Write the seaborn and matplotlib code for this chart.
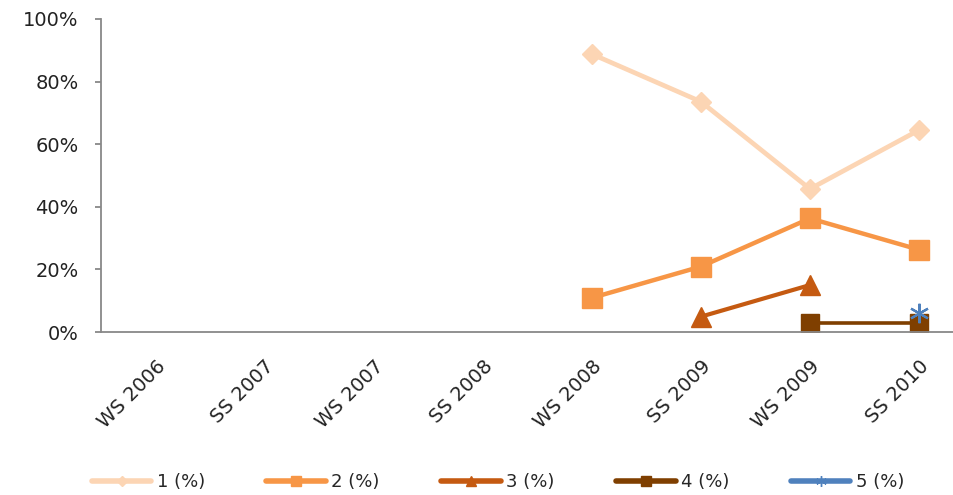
import numpy as np
import pandas as pd
import matplotlib
matplotlib.use("Agg")
import matplotlib.pyplot as plt
import seaborn as sns

categories = ["WS 2006", "SS 2007", "WS 2007", "SS 2008", "WS 2008", "SS 2009", "WS 2009", "SS 2010"]
s1 = [np.nan, np.nan, np.nan, np.nan, 88.8, 73.6, 45.7, 64.5]
s2 = [np.nan, np.nan, np.nan, np.nan, 10.9, 20.9, 36.3, 26.3]
s3 = [np.nan, np.nan, np.nan, np.nan, np.nan, 4.9, 15.0, np.nan]
s4 = [np.nan, np.nan, np.nan, np.nan, np.nan, np.nan, 2.9, 2.9]
s5 = [np.nan, np.nan, np.nan, np.nan, np.nan, np.nan, np.nan, 6.0]
series_names = ["1 (%)", "2 (%)", "3 (%)", "4 (%)", "5 (%)"]
series_vals = [s1, s2, s3, s4, s5]

colors = ["#FCD5B4", "#F79646", "#C55A11", "#7F3F00", "#4F81BD"]
markers = ["D", "s", "^", "s", (6, 2, 0)]
msizes = [10, 14, 14, 13, 14]
lwidths = [3.4, 3.2, 3.0, 2.6, 3.0]

sns.set_style("white")
plt.rcParams["font.family"] = ["DejaVu Sans"]

fig = plt.figure(figsize=(9.54, 4.95), dpi=100)
W, H = 954, 495
left, right, top, bottom = 101, 954, 19, 332
ax = fig.add_axes([left / W, 1 - bottom / H, (right - left) / W, (bottom - top) / H])

rows = []
for name, vals in zip(series_names, series_vals):
    for i, v in enumerate(vals):
        rows.append({"x": i, "val": v, "series": name})
df = pd.DataFrame(rows).dropna()

for name, c, m, ms, lw in zip(series_names, colors, markers, msizes, lwidths):
    sub = df[df["series"] == name]
    sns.lineplot(data=sub, x="x", y="val", ax=ax, color=c, marker=m, markersize=ms,
                 linewidth=lw, markeredgecolor=c,
                 markeredgewidth=1.0 if not isinstance(m, tuple) else 1.6,
                 label=name, legend=False, sort=False)

ax.set_ylim(0, 100)
ax.set_xlim(-0.5, 7.5 - (973.5 - 954) / 109)
ax.set_yticks(np.arange(0, 101, 20))
ax.set_yticklabels([f"{v}%" for v in range(0, 101, 20)], fontsize=14, color="#222222")
ax.set_xticks(range(len(categories)))
ax.set_xticklabels(categories, rotation=45, ha="right", rotation_mode="anchor", fontsize=14, color="#222222")
ax.set_xlabel("")
ax.set_ylabel("")
for s in ["top", "right"]:
    ax.spines[s].set_visible(False)
for s in ["left", "bottom"]:
    ax.spines[s].set_color("#888888")
    ax.spines[s].set_linewidth(1.3)
ax.tick_params(axis="y", which="both", left=True, length=4, width=1.3, color="#888888", pad=12)
ax.tick_params(axis="x", which="both", bottom=False, pad=14)
ax.grid(False)

handles = [plt.Line2D([], [], color=c, marker=m, markersize=ms * 0.55, linewidth=4,
                      markeredgecolor=c, solid_capstyle="round") for c, m, ms in zip(colors, markers, msizes)]
fig.legend(handles, series_names, loc="center", bbox_to_anchor=(0.522, 1 - 482 / H), ncol=5,
           frameon=False, fontsize=13, handlelength=3.3, columnspacing=3.4, handletextpad=0.3)

fig.savefig("out.png", dpi=100)
